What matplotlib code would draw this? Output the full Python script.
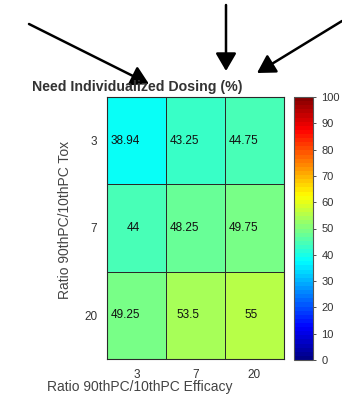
import numpy as np
import matplotlib
matplotlib.use("Agg")
import matplotlib.pyplot as plt
from matplotlib.colors import ListedColormap
from matplotlib.patches import FancyArrowPatch

plt.rcParams['font.family'] = ['Liberation Sans', 'DejaVu Sans']

# === Data ===
efficacy_ratio = ['3', '7', '20']
tox_ratio = ['3', '7', '20']
need_dosing = np.array([
    [38.94, 43.25, 44.75],
    [44.00, 48.25, 49.75],
    [49.25, 53.50, 55.00],
])
cell_labels = [
    ['38.94', '43.25', '44.75'],
    ['44', '48.25', '49.75'],
    ['49.25', '53.5', '55'],
]
cbar_ticks = [0, 10, 20, 30, 40, 50, 60, 70, 80, 90, 100]

W, H = 342, 398
fig = plt.figure(figsize=(W / 100, H / 100), dpi=100)

def fx(px):
    return px / W

def fy(py):
    return 1 - py / H

# classic 64-step jet (piecewise linear r/g/b ramps)
n = 64
x = (np.arange(n) + 0.5) / n
jet = np.stack([np.clip(1.5 - np.abs(4 * x - 3), 0, 1),
                np.clip(1.5 - np.abs(4 * x - 2), 0, 1),
                np.clip(1.5 - np.abs(4 * x - 1), 0, 1)], axis=1)
cmap = ListedColormap(jet)

# heatmap
ax = fig.add_axes([fx(107), fy(359), fx(284) - fx(107), fy(97) - fy(359)])
mesh = ax.pcolormesh(need_dosing, cmap=cmap, vmin=0, vmax=100,
                     edgecolors='#2a2a2a', linewidth=0.6)
ax.set_xlim(0, 3)
ax.set_ylim(3, 0)
ax.set_xticks(np.arange(3) + 0.5)
ax.set_xticklabels(efficacy_ratio)
ax.set_yticks(np.arange(3) + 0.5)
ax.set_yticklabels(tox_ratio)
ax.tick_params(length=0, labelsize=8.5, colors='#333333', pad=7)
for s in ax.spines.values():
    s.set_color('#2a2a2a')
    s.set_linewidth(0.8)

for i in range(3):
    for j in range(3):
        ax.text(j + 0.56, i + 0.5, cell_labels[i][j], ha='right', va='center',
                fontsize=8.5, color='#111111')

# colorbar
cax = fig.add_axes([fx(294), fy(360), fx(313) - fx(294), fy(97) - fy(360)])
cb = fig.colorbar(mesh, cax=cax, ticks=cbar_ticks)
cb.ax.tick_params(labelsize=8, length=2.5, width=0.6, colors='#333333')
cb.outline.set_edgecolor('#555555')
cb.outline.set_linewidth(0.8)

# titles / labels
fig.text(fx(32), fy(87), 'Need Individualized Dosing (%)', ha='left', va='center',
         fontsize=10.2, fontweight='bold', color='#333333')
fig.text(fx(65), fy(220), 'Ratio 90thPC/10thPC Tox', rotation=90, ha='center',
         va='center', fontsize=10, color='#444444')
fig.text(fx(140), fy(387), 'Ratio 90thPC/10thPC Efficacy', ha='center', va='center',
         fontsize=10, color='#444444')

# pointer arrows
arrows = [((29, 24), (149, 84)), ((226, 5), (226, 71)), ((342, 21), (257, 73))]
for (x0, y0), (x1, y1) in arrows:
    arr = FancyArrowPatch((fx(x0), fy(y0)), (fx(x1), fy(y1)),
                          transform=fig.transFigure, arrowstyle='-|>,head_length=0.6,head_width=0.35',
                          mutation_scale=18, color='black', linewidth=1.8,
                          shrinkA=0, shrinkB=0)
    fig.add_artist(arr)

plt.savefig('out.png', dpi=100)
